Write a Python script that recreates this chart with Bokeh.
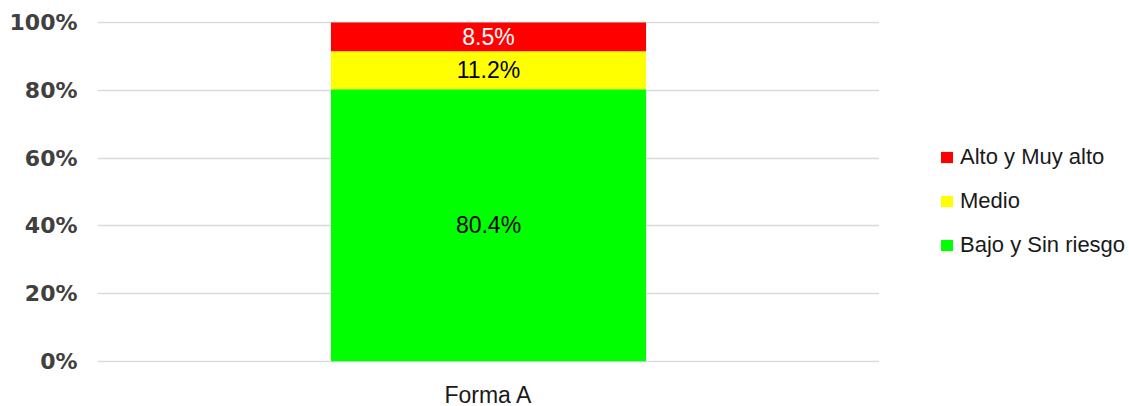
from bokeh.plotting import figure
from bokeh.layouts import row
from bokeh.models import (FactorRange, Range1d, NumeralTickFormatter, Legend,
                          LegendItem, ColumnDataSource, FixedTicker)
from bokeh.core.properties import value
from bokeh.embed import file_html
from bokeh.resources import INLINE

# Risk-level shares for the questionnaire form
forms = ["Forma A"]
levels = ["Bajo y Sin riesgo", "Medio", "Alto y Muy alto"]
bajo = [80.4]
medio = [11.2]
alto = [8.5]
y_ticks = [0, 0.2, 0.4, 0.6, 0.8, 1.0]

colors = ["#00FF00", "#FFFF00", "#FF0000"]
label_colors = ["#000000", "#000000", "#FFFFFF"]
FONT = "Liberation Sans"

data = {"forms": forms,
        "Bajo y Sin riesgo": [v / 100 for v in bajo],
        "Medio": [v / 100 for v in medio],
        "Alto y Muy alto": [v / 100 for v in alto]}
src = ColumnDataSource(data)

p = figure(x_range=FactorRange(*forms, range_padding=0), y_range=Range1d(-0.004, 1.004),
           frame_width=782, frame_height=341,
           min_border_left=97, min_border_right=0, min_border_top=21, min_border_bottom=44,
           output_backend="svg", toolbar_location=None, outline_line_color=None,
           background_fill_color="white", border_fill_color="white")

rs = p.vbar_stack(levels, x="forms", width=0.403, color=colors, line_color=None, source=src)

# value labels centred in each segment
seg_vals = [bajo[0], medio[0], alto[0]]
mids, texts = [], []
base = 0.0
for v in seg_vals:
    mids.append((base + v / 2) / 100)
    texts.append(f"{v:.1f}%")
    base += v
lab_src = ColumnDataSource(dict(x=[forms[0]] * 3, y=mids, t=texts, c=label_colors))
p.text(x="x", y="y", text="t", text_color="c", source=lab_src,
       text_font=value(FONT), text_font_size="23px",
       text_align="center", text_baseline="middle")

# axes
for ax in (p.xaxis[0], p.yaxis[0]):
    ax.axis_line_color = None
    ax.major_tick_line_color = None
    ax.minor_tick_line_color = None
    ax.major_tick_out = 0
    ax.major_tick_in = 0
    ax.minor_tick_out = 0
    ax.minor_tick_in = 0

p.yaxis.ticker = FixedTicker(ticks=y_ticks)
p.yaxis.formatter = NumeralTickFormatter(format="0%")
p.yaxis.major_label_text_font = "DejaVu Sans"
p.yaxis.major_label_text_font_style = "bold"
p.yaxis.major_label_text_font_size = "22px"
p.yaxis.major_label_text_color = "#404040"
p.yaxis.major_label_standoff = 20

p.xaxis.major_label_text_font = FONT
p.xaxis.major_label_text_font_size = "23px"
p.xaxis.major_label_text_color = "#1a1a1a"
p.xaxis.major_label_standoff = 19

p.xgrid.grid_line_color = None
p.ygrid.grid_line_color = "#d9d9d9"
p.ygrid.grid_line_width = 1.5

# legend panel to the right of the chart; its swatch renderers share the
# stacked series but have zero bar width, so only their legend glyphs show
lp = figure(width=251, height=406, x_range=FactorRange(*forms), y_range=Range1d(5, 6),
            x_axis_type=None, y_axis_type=None,
            min_border_left=0, min_border_right=0, min_border_top=0, min_border_bottom=0,
            output_backend="svg", toolbar_location=None, outline_line_color=None,
            background_fill_color="white", border_fill_color="white")
swatches = lp.vbar_stack(levels, x="forms", width=0, color=colors,
                         line_color=None, source=src)

items = [LegendItem(label=levels[i], renderers=[swatches[i]]) for i in (2, 1, 0)]
legend = Legend(items=items, location=(60, 100), padding=0, margin=0,
                border_line_color=None, background_fill_alpha=0,
                glyph_width=15, glyph_height=14, label_height=14,
                spacing=18, label_standoff=6,
                label_text_font=FONT, label_text_font_size="22px",
                label_text_color="#1a1a1a")
lp.add_layout(legend, "center")

layout = row(p, lp, spacing=0)
open("out.html", "w").write(file_html(layout, INLINE))
